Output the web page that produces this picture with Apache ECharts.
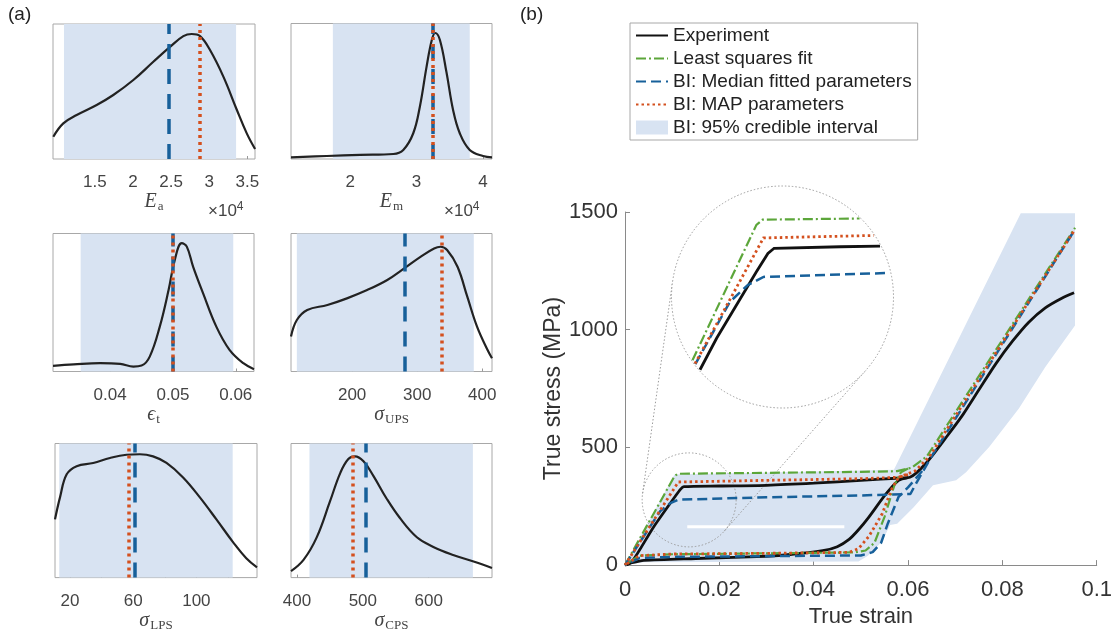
<!DOCTYPE html>
<html><head><meta charset="utf-8">
<script src="https://cdn.jsdelivr.net/npm/echarts@6/dist/echarts.min.js"></script>
<style>html,body{margin:0;padding:0;background:#fff}#c{width:1115px;height:633px}</style>
</head><body><div id="c"></div>
<script>
// ---------- (a) posterior densities (y = fraction of panel height) ----------
const eaX = [0.954,1.085,1.261,1.523,1.741,2.004,2.266,2.485,2.660,2.770,2.879,3.010,3.185,3.361,3.492,3.601];
const eaY = [0.165,0.264,0.326,0.400,0.474,0.585,0.720,0.830,0.910,0.926,0.910,0.807,0.610,0.365,0.190,0.074];
const emX = [1.11,1.65,2.15,2.65,2.80,2.95,3.05,3.15,3.23,3.28,3.35,3.45,3.55,3.65,3.80,4.00,4.135];
const emY = [0.012,0.022,0.030,0.037,0.067,0.190,0.388,0.680,0.880,0.930,0.880,0.640,0.360,0.190,0.067,0.022,0.012];
const etX = [0.0309,0.0342,0.0384,0.0416,0.0437,0.0450,0.0463,0.0479,0.0493,0.0503,0.0514,0.0522,0.0532,0.0548,0.0569,0.0590,0.0612,0.0629];
const etY = [0.041,0.051,0.060,0.055,0.036,0.043,0.108,0.325,0.590,0.810,0.930,0.905,0.760,0.566,0.325,0.157,0.060,0.017];
const upsX = [106,115,131,162,192,223,254,280,305,326,336,346,362,377,392,408,415];
const upsY = [0.253,0.373,0.446,0.482,0.530,0.590,0.663,0.747,0.831,0.892,0.904,0.880,0.759,0.542,0.325,0.157,0.096];
const lpsX = [10.5,13.7,17.9,24.2,34.7,45.3,55.8,64.2,72.6,81.1,91.6,102.1,112.7,123.2,131.6,138.4];
const lpsY = [0.434,0.600,0.770,0.831,0.855,0.892,0.916,0.920,0.904,0.855,0.747,0.600,0.434,0.265,0.145,0.077];
const cpsX = [391,410,430,450,466,478,488,501,516,536,556,582,607,637,668,696];
const cpsY = [0.048,0.132,0.300,0.566,0.783,0.884,0.904,0.867,0.759,0.590,0.446,0.301,0.229,0.169,0.120,0.072];

const ranges   = [[0.95,3.6],[1.11,4.135],[0.0309,0.0629],[106,415],[10.5,138.4],[391,696]];
const tickVals = [[1.5,2,2.5,3,3.5],[2,3,4],[0.04,0.05,0.06],[200,300,400],[20,40,60,80,100,120],[400,500,600]];
const tickLbls = [[1.5,2,2.5,3,3.5],[2,3,4],[0.04,0.05,0.06],[200,300,400],[20,60,100],[400,500,600]];
const ciLo   = [1.094,1.74,0.0353,115,13.2,419];
const ciHi   = [3.352,3.80,0.0596,387,123,667];
const median = [2.47,3.255,0.0519,281,61,505];
const mapEst = [2.88,3.25,0.0511,338,57.5,484];
const paramNames = ['{i|E}{s|a}','{i|E}{s|m}','{i|ϵ}{s|t}','{i|σ}{s|UPS}','{i|σ}{s|LPS}','{i|σ}{s|CPS}'];

// ---------- (b) stress–strain curves [strain, stress MPa] ----------
const expLoad = [[0,0],[0.0015,15],[0.006,160],[0.0105,288],[0.0118,323],[0.0125,333],[0.02,336],[0.03,339],[0.04,348],[0.05,360],[0.0585,370],[0.0604,373],[0.0639,435],[0.0681,543],[0.0716,638],[0.0751,747],[0.0786,855],[0.0821,950],[0.0856,1032],[0.0891,1093],[0.0926,1134],[0.0952,1157]];
const expUnload = [[0.0600,372],[0.0580,360],[0.0552,299],[0.0517,204],[0.0495,150],[0.0475,109],[0.0450,78],[0.0419,61],[0.035,45],[0.0279,36],[0.015,28],[0.004,20],[0.0015,10],[0,0]];
const lsqLoad = [[0,0],[0.0105,378],[0.0112,388],[0.03,392],[0.05,396],[0.0577,399],[0.0608,414],[0.0640,462],[0.0954,1433]];
const lsqUnload = [[0.0600,410],[0.0585,394],[0.0571,339],[0.0550,204],[0.0529,95],[0.0510,62],[0.0487,54],[0.03,50],[0.01,46],[0.003,40],[0,0]];
const medLoad = [[0,0],[0.0075,230],[0.0095,262],[0.0113,278],[0.03,288],[0.05,296],[0.0605,302],[0.0619,354],[0.0650,462],[0.0952,1420]];
const medUnload = [[0.0630,400],[0.0600,330],[0.0580,290],[0.0557,176],[0.0543,95],[0.0525,55],[0.0500,41],[0.03,38],[0.01,35],[0.003,30],[0,0]];
const mapLoad = [[0,0],[0.0113,353],[0.03,360],[0.05,367],[0.0580,373],[0.0615,400],[0.0645,460],[0.0952,1420]];
const mapUnload = [[0.0600,385],[0.0580,373],[0.0566,326],[0.0545,217],[0.0517,122],[0.0495,70],[0.0475,54],[0.03,50],[0.01,47],[0.003,40],[0,0]];
const bandPoly = [[0,0],[0.0105,385],[0.057,405],[0.0839,1495],[0.0954,1495],[0.0954,1018],[0.0891,842],[0.0835,665],[0.0772,502],[0.0723,394],[0.0702,360],[0.0653,339],[0.0611,244],[0.0577,176],[0.0562,170],[0.0545,100],[0.0515,40],[0.0495,15],[0.004,12],[0,0]];
const bandGap = [[0.0132,163],[0.0465,163]];
const zoomCentre = [0.0136,277];

const C = {blk:'#111111', grn:'#5ca63a', blu:'#17609a', red:'#d4501e', band:'#d8e3f2', axis:'#8a8a8a', txt:'#333333'};
const SANS = 'Liberation Sans', SERIF = 'Liberation Serif';
const INSET = {cx:782.5, cy:297, r:111};
const SRC_R = 47;

const panelBoxes = [[53,24,202,135],[291,23.5,201,135.5],[53,233.5,201,138],[291,233.5,201,138],[55,443.5,202,138],[291,443.5,201,138]];

const grids = [], xAxes = [], yAxes = [], series = [];
const kdeX = [eaX,emX,etX,upsX,lpsX,cpsX], kdeY = [eaY,emY,etY,upsY,lpsY,cpsY];
for (let i = 0; i < 6; i++) {
  const b = panelBoxes[i];
  grids.push({left:b[0], top:b[1], width:b[2], height:b[3], show:true, borderColor:'#a8a8a8', borderWidth:1, backgroundColor:'#fff'});
  xAxes.push({gridIndex:i, type:'value', min:ranges[i][0], max:ranges[i][1],
    axisLine:{show:false}, splitLine:{show:false},
    axisTick:{inside:true, length:3, lineStyle:{color:'#999'}, customValues:tickVals[i]},
    axisLabel:{customValues:tickLbls[i], fontSize:17, color:'#444', fontFamily:SANS, margin:15},
    name:paramNames[i], nameLocation:'middle', nameGap:i<2?26:25,
    nameTextStyle:{rich:{
      i:{fontFamily:SERIF, fontStyle:'italic', fontSize:20, color:'#444'},
      s:{fontFamily:SERIF, fontSize:13, color:'#444', padding:[10,0,0,1]}
    }}});
  yAxes.push({gridIndex:i, type:'value', min:0, max:1, show:false});
  series.push({type:'custom', xAxisIndex:i, yAxisIndex:i, z:1, silent:true,
    data:[[ciLo[i], ciHi[i]]],
    renderItem:(p, api) => {
      const a = api.coord([api.value(0), 1]), c = api.coord([api.value(1), 0]);
      return {type:'rect', shape:{x:a[0], y:a[1], width:c[0]-a[0], height:c[1]-a[1]}, style:{fill:C.band}};
    }});
  series.push({type:'line', xAxisIndex:i, yAxisIndex:i, z:3, smooth:0.4, symbol:'none', silent:true,
    data:kdeX[i].map((x,k)=>[x, kdeY[i][k]]),
    lineStyle:{color:'#222', width:2.2},
    markLine:{silent:true, symbol:['none','none'], label:{show:false}, animation:false,
      data:[
        {xAxis:median[i], lineStyle:{color:C.blu, width:3.5, type:[15,10]}},
        {xAxis:mapEst[i], lineStyle:{color:C.red, width:3.5, type:[3,4]}}
      ]}});
}

// main grid (index 6) and inset grid (index 7)
grids.push({left:625, top:212, width:477, height:368});
grids.push({left:INSET.cx-INSET.r, top:INSET.cy-INSET.r, width:2*INSET.r, height:2*INSET.r});
xAxes.push({gridIndex:6, type:'value', min:0, max:0.1, interval:0.02,
  axisLine:{lineStyle:{color:C.axis}}, splitLine:{show:false},
  axisTick:{inside:true, length:5, lineStyle:{color:C.axis}},
  axisLabel:{fontSize:22, color:C.txt, fontFamily:SANS, margin:14},
  name:'True strain', nameLocation:'middle', nameGap:33,
  nameTextStyle:{fontSize:22, color:C.txt, fontFamily:SANS}});
yAxes.push({gridIndex:6, type:'value', min:0, max:1500, interval:500,
  axisLine:{show:true, lineStyle:{color:C.axis}}, splitLine:{show:false},
  axisTick:{show:true, inside:true, length:5, lineStyle:{color:C.axis}},
  axisLabel:{fontSize:22, color:C.txt, fontFamily:SANS, margin:7, formatter:v=>String(v)},
  name:'True stress (MPa)', nameLocation:'middle', nameGap:56,
  nameTextStyle:{fontSize:23, color:C.txt, fontFamily:SANS}});
xAxes.push({gridIndex:7, type:'value', min:0.0009, max:0.0260, show:false});
yAxes.push({gridIndex:7, type:'value', min:25.9, max:452.8, show:false});

// 95% band
series.push({type:'custom', name:'BI: 95% credible interval', xAxisIndex:6, yAxisIndex:6, z:1,
  itemStyle:{color:C.band}, data:[[0,0]], silent:true,
  renderItem:(p, api) => ({type:'group', children:[
    {type:'polygon', shape:{points:bandPoly.map(q=>api.coord(q))}, style:{fill:C.band}},
    {type:'polyline', shape:{points:bandGap.map(q=>api.coord(q))}, style:{stroke:'#ffffff', lineWidth:3, fill:null}}
  ]})});

const styles = {
  'Experiment': {color:C.blk, width:2.8, type:'solid'},
  'Least squares fit': {color:C.grn, width:2.2, type:[10,3,2,3]},
  'BI: Median fitted parameters': {color:C.blu, width:2.5, type:[10,5]},
  'BI: MAP parameters': {color:C.red, width:2.8, type:[2.5,3]}
};
const curves = [['Experiment',expLoad,expUnload],['Least squares fit',lsqLoad,lsqUnload],['BI: Median fitted parameters',medLoad,medUnload],['BI: MAP parameters',mapLoad,mapUnload]];
curves.forEach(([nm, ld, ul]) => {
  [ld, ul].forEach(d => series.push({type:'line', name:nm, xAxisIndex:6, yAxisIndex:6, z:3, symbol:'none', silent:true,
    smooth: nm === 'Experiment' ? 0.25 : false,
    data:d, lineStyle:Object.assign({}, styles[nm]), itemStyle:{color:styles[nm].color}}));
});

// zoom circle + connectors on main grid
series.push({type:'custom', xAxisIndex:6, yAxisIndex:6, z:2, silent:true, data:[[0,0]],
  renderItem:(p, api) => {
    const c1 = api.coord(zoomCentre), r1 = SRC_R, c2 = [INSET.cx, INSET.cy], r2 = INSET.r;
    const dx = c2[0]-c1[0], dy = c2[1]-c1[1], D = Math.hypot(dx, dy);
    const th = Math.atan2(dy, dx), al = Math.acos((r1-r2)/D);
    const st = {stroke:'#9a9a9a', lineWidth:1, lineDash:[1.5,2], fill:null};
    const kids = [{type:'circle', shape:{cx:c1[0], cy:c1[1], r:r1}, style:st}];
    [th+al, th-al].forEach(a => kids.push({type:'line', shape:{
      x1:c1[0]+r1*Math.cos(a), y1:c1[1]+r1*Math.sin(a), x2:c2[0]+r2*Math.cos(a), y2:c2[1]+r2*Math.sin(a)}, style:st}));
    kids.push({type:'circle', shape:{cx:c2[0], cy:c2[1], r:r2}, style:{stroke:'#9a9a9a', lineWidth:1, lineDash:[1.5,2], fill:'#ffffff'}});
    return {type:'group', children:kids};
  }});

function clipToCircle(pts, c, r) {
  const out = []; let cur = null;
  for (let k = 0; k < pts.length-1; k++) {
    const p0 = pts[k], p1 = pts[k+1];
    const dx = p1[0]-p0[0], dy = p1[1]-p0[1], fx = p0[0]-c[0], fy = p0[1]-c[1];
    const a = dx*dx+dy*dy, b = 2*(fx*dx+fy*dy), cc = fx*fx+fy*fy-r*r;
    if (a === 0) continue;
    const disc = b*b-4*a*cc;
    if (disc <= 0) { if (cur) { out.push(cur); cur = null; } continue; }
    const sq = Math.sqrt(disc);
    const t1 = Math.max(0, (-b-sq)/(2*a)), t2 = Math.min(1, (-b+sq)/(2*a));
    if (t1 >= t2) { if (cur) { out.push(cur); cur = null; } continue; }
    const q0 = [p0[0]+dx*t1, p0[1]+dy*t1], q1 = [p0[0]+dx*t2, p0[1]+dy*t2];
    if (!cur || t1 > 0) { if (cur) out.push(cur); cur = [q0]; }
    cur.push(q1);
    if (t2 < 1) { out.push(cur); cur = null; }
  }
  if (cur) out.push(cur);
  return out;
}
// inset: magnified yield region (loading branches)
series.push({type:'custom', xAxisIndex:7, yAxisIndex:7, z:4, silent:true, data:[[0,0]],
  renderItem:(p, api) => {
    const kids = [];
    curves.forEach(([nm, ld]) => {
      const s = styles[nm];
      const px = ld.map(q => api.coord(q));
      clipToCircle(px, [INSET.cx, INSET.cy], INSET.r - 1).forEach(seg => kids.push({type:'polyline', shape:{points:seg},
        style:{stroke:s.color, lineWidth:s.width, lineDash:s.type==='solid'?null:s.type, fill:null}}));
    });
    return {type:'group', children:kids};
  }});

const hideSym = {color:'rgba(0,0,0,0)', borderColor:'rgba(0,0,0,0)', borderWidth:0};
const option = {
  animation:false,
  grid:grids, xAxis:xAxes, yAxis:yAxes, series:series,
  legend:{orient:'vertical', left:630, top:23, padding:[3,6,3,5], itemGap:4, itemWidth:32, itemHeight:14,
    borderColor:'#a8a8a8', borderWidth:1, backgroundColor:'#fff', selectedMode:false,
    textStyle:{fontSize:19, color:'#222', fontFamily:SANS},
    data:[
      {name:'Experiment', itemStyle:hideSym},
      {name:'Least squares fit', itemStyle:hideSym},
      {name:'BI: Median fitted parameters', itemStyle:hideSym},
      {name:'BI: MAP parameters', itemStyle:hideSym},
      {name:'BI: 95% credible interval', icon:'rect'}]},
  graphic:[
    {type:'text', left:8, top:5, style:{text:'(a)', fontSize:19, fontFamily:SANS, fill:'#222'}},
    {type:'text', left:520, top:5, style:{text:'(b)', fontSize:19, fontFamily:SANS, fill:'#222'}},
    {type:'text', left:208, top:201, style:{text:'{a|×10}{b|4}', fill:'#444', rich:{a:{fontSize:17, fontFamily:SANS, fill:'#444'}, b:{fontSize:12, fontFamily:SANS, fill:'#444', padding:[0,0,9,0]}}}},
    {type:'text', left:444, top:201, style:{text:'{a|×10}{b|4}', fill:'#444', rich:{a:{fontSize:17, fontFamily:SANS, fill:'#444'}, b:{fontSize:12, fontFamily:SANS, fill:'#444', padding:[0,0,9,0]}}}}
  ]
};
echarts.init(document.getElementById('c')).setOption(option);
</script></body></html>
